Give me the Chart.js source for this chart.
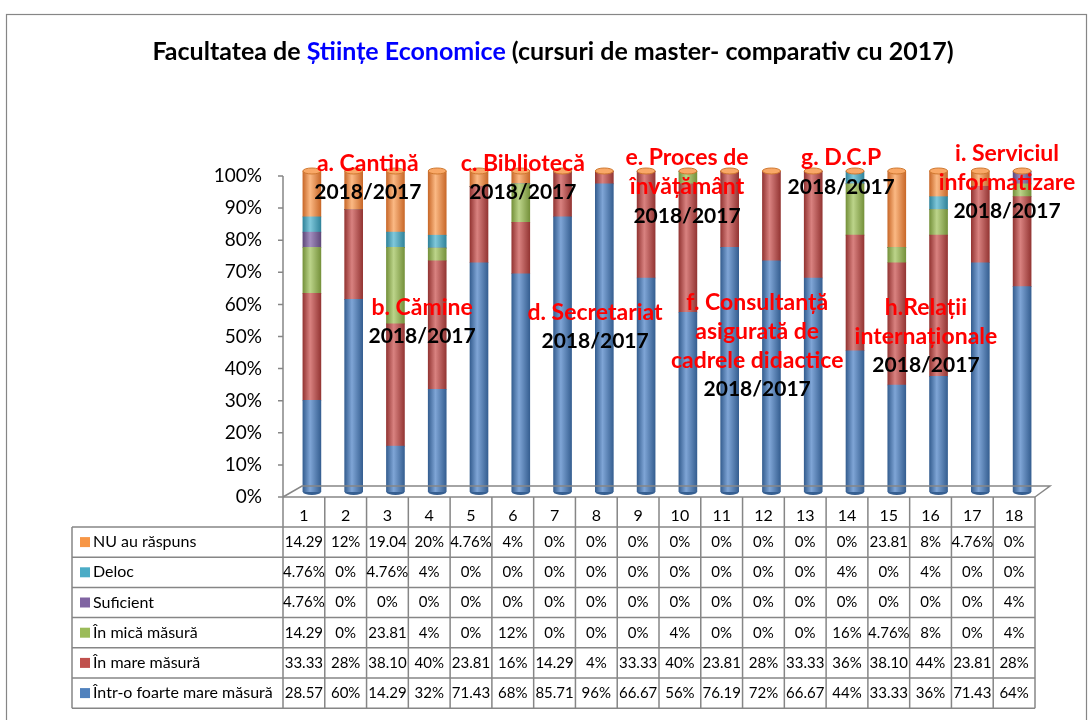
<!DOCTYPE html>
<html>
<head>
<meta charset="utf-8">
<script src="https://cdn.jsdelivr.net/npm/chart.js@4.4.0/dist/chart.umd.min.js"></script>
<style>
  body { margin: 0; background: #fff; }
  #wrap { width: 1091px; height: 720px; }
</style>
</head>
<body>
<div id="wrap"><canvas id="myChart" width="1091" height="720"></canvas></div>
<script>
// categorii (coloanele tabelului)
const categories = ['1', '2', '3', '4', '5', '6', '7', '8', '9', '10', '11', '12', '13', '14', '15', '16', '17', '18'];
const yTicks = [0, 10, 20, 30, 40, 50, 60, 70, 80, 90, 100];

// seriile, de jos in sus
const intrOFoarteMareMasura = [28.57, 60, 14.29, 32, 71.43, 68, 85.71, 96, 66.67, 56, 76.19, 72, 66.67, 44, 33.33, 36, 71.43, 64];
const inMareMasura = [33.33, 28, 38.10, 40, 23.81, 16, 14.29, 4, 33.33, 40, 23.81, 28, 33.33, 36, 38.10, 44, 23.81, 28];
const inMicaMasura = [14.29, 0, 23.81, 4, 0, 12, 0, 0, 0, 4, 0, 0, 0, 16, 4.76, 8, 0, 4];
const suficient = [4.76, 0, 0, 0, 0, 0, 0, 0, 0, 0, 0, 0, 0, 0, 0, 0, 0, 4];
const deloc = [4.76, 0, 4.76, 4, 0, 0, 0, 0, 0, 0, 0, 0, 0, 4, 0, 4, 0, 0];
const nuAuRaspuns = [14.29, 12, 19.04, 20, 4.76, 4, 0, 0, 0, 0, 0, 0, 0, 0, 23.81, 8, 4.76, 0];

const seriesNames = ['Într-o foarte mare măsură', 'În mare măsură', 'În mică măsură', 'Suficient', 'Deloc', 'NU au răspuns'];
const seriesValues = [intrOFoarteMareMasura, inMareMasura, inMicaMasura, suficient, deloc, nuAuRaspuns];

// etichetele rosii de pe grafic
const noteTexts = [
    ['a. Cantină'],
    ['b. Cămine'],
    ['c. Bibliotecă'],
    ['d. Secretariat'],
    ['e. Proces de', 'învățământ'],
    ['f. Consultanță', 'asigurată de', 'cadrele didactice'],
    ['g. D.C.P'],
    ['h.Relații', 'internaționale'],
    ['i. Serviciul', 'informatizare']
];
const noteYear = '2018/2017';
// pozitia: coloana (0 = marginea stanga a tabelului) si valoarea pe axa
const notePos = [
    [2.03, 104.0], [3.33, 59.0], [5.74, 104.0], [7.47, 57.5], [9.67, 105.6],
    [11.35, 60.6], [13.36, 105.6], [15.39, 59.0], [17.33, 107.1]
];

// culori Office: [baza, inchis, deschis]
const colors = [
    ['#4F81BD', '#365F91', '#7FA5D6'],
    ['#C0504D', '#943634', '#D98280'],
    ['#9BBB59', '#76923C', '#BCD48A'],
    ['#8064A2', '#5F497A', '#A48FC0'],
    ['#4BACC6', '#31849B', '#80C8DB'],
    ['#F79646', '#C9692A', '#FBB984']
];

const FONT = 'Lato, "Open Sans", sans-serif';
const SHIFT = 8;  // adancimea 3D
const LIFT = 5;

function barGradient(i) {
    return function (ctx) {
        const chart = ctx.chart;
        if (!chart.chartArea || ctx.type !== 'data') return colors[i][0];
        const x = chart.scales.x.getPixelForValue(ctx.dataIndex);
        const g = chart.ctx.createLinearGradient(x - 9, 0, x + 9, 0);
        g.addColorStop(0, colors[i][1]);
        g.addColorStop(0.4, colors[i][2]);
        g.addColorStop(1, colors[i][1]);
        return g;
    };
}

function fmt(v) {
    return (Number.isInteger(v) ? v : v.toFixed(2)) + '%';
}

const decor = {
    id: 'decor',
    beforeDraw(chart) {
        const c = chart.ctx;
        c.save();
        c.fillStyle = '#fff';
        c.fillRect(0, 0, chart.width, chart.height);
        c.strokeStyle = '#868686';
        c.lineWidth = 1.2;
        c.strokeRect(6.5, 14.5, 1080, 800);

        // titlu
        const parts = [['Facultatea de ', '#000'], ['Științe Economice', '#0000FF'], [' (cursuri de master- comparativ cu 2017)', '#000']];
        c.font = 'bold 25px ' + FONT;
        c.textBaseline = 'middle';
        c.textAlign = 'left';
        let total = 0;
        parts.forEach(p => total += c.measureText(p[0]).width);
        let x = 553 - total / 2;
        parts.forEach(p => {
            c.fillStyle = p[1];
            c.fillText(p[0], x, 52);
            x += c.measureText(p[0]).width;
        });
        c.restore();
    },
    afterDatasetsDraw(chart) {
        const c = chart.ctx;
        const top = chart.scales.y.getPixelForValue(100);
        const meta = chart.getDatasetMeta(chart.data.datasets.length - 1);
        c.save();
        meta.data.forEach(el => {
            c.beginPath();
            c.ellipse(el.x, top, el.width / 2, 3, 0, 0, Math.PI * 2);
            c.fillStyle = '#F9A867';
            c.fill();
            c.strokeStyle = '#D0782F';
            c.lineWidth = 1;
            c.stroke();
        });
        // fundul cilindrului
        const bottom = chart.scales.y.getPixelForValue(0);
        const meta0 = chart.getDatasetMeta(0);
        meta0.data.forEach(el => {
            c.beginPath();
            c.ellipse(el.x, bottom, el.width / 2, 3, 0, 0, Math.PI);
            c.fillStyle = colors[0][1];
            c.fill();
        });
        c.restore();
    },
    afterDraw(chart) {
        const c = chart.ctx;
        const xs = chart.scales.x, ys = chart.scales.y;
        const colW = (xs.right - xs.left) / categories.length;
        const left = xs.left - SHIFT;
        const right = left + colW * categories.length;
        const axisY = v => ys.getPixelForValue(v) + LIFT;
        const y0 = axisY(0);

        c.save();
        c.strokeStyle = '#868686';
        c.lineWidth = 1.5;
        // axa verticala si gradatii
        c.beginPath();
        c.moveTo(left, axisY(100));
        c.lineTo(left, y0);
        yTicks.forEach(t => {
            c.moveTo(left - 5, axisY(t));
            c.lineTo(left, axisY(t));
        });
        // podeaua 3D
        c.moveTo(left, y0);
        c.lineTo(left + 19, y0 - 11);
        c.lineTo(right + 15, y0 - 11);
        c.lineTo(right, y0);
        c.stroke();

        // tabelul de date
        const rowH = 30.2;
        const tHead = y0;
        const tBody = y0 + 30;
        const labelLeft = 72;
        const nRows = seriesNames.length;
        c.beginPath();
        c.moveTo(left, tHead);
        c.lineTo(right, tHead);
        for (let r = 0; r <= nRows; r++) {
            c.moveTo(labelLeft, tBody + r * rowH);
            c.lineTo(right, tBody + r * rowH);
        }
        c.moveTo(labelLeft, tBody);
        c.lineTo(labelLeft, tBody + nRows * rowH);
        for (let i = 0; i <= categories.length; i++) {
            c.moveTo(left + i * colW, tHead);
            c.lineTo(left + i * colW, tBody + nRows * rowH);
        }
        c.stroke();

        c.fillStyle = '#000';
        c.font = '16px ' + FONT;
        c.textBaseline = 'middle';
        c.textAlign = 'center';
        categories.forEach((cat, i) => c.fillText(cat, left + (i + 0.5) * colW, tHead + 19));

        for (let r = 0; r < nRows; r++) {
            const s = nRows - 1 - r; // NU au raspuns sus
            const yMid = tBody + (r + 0.5) * rowH;
            c.fillStyle = colors[s][0];
            c.fillRect(80, yMid - 5, 10, 10);
            c.fillStyle = '#000';
            c.textAlign = 'left';
            c.font = '16px ' + FONT;
            c.fillText(seriesNames[s], 93, yMid);
            c.textAlign = 'center';
            c.font = '15px ' + FONT;
            seriesValues[s].forEach((v, i) => {
                let txt = fmt(v);
                if (c.measureText(txt).width > colW + 3) txt = txt.slice(0, -1);
                c.fillText(txt, left + (i + 0.5) * colW, yMid);
            });
        }

        // etichete
        c.textAlign = 'center';
        noteTexts.forEach((lines, n) => {
            const x = left + notePos[n][0] * colW;
            let y = axisY(notePos[n][1]);
            c.fillStyle = '#FF0000';
            c.font = 'bold 23px ' + FONT;
            lines.forEach(l => { c.fillText(l, x, y); y += 29; });
            c.fillStyle = '#000';
            c.font = 'bold 21px ' + FONT;
            c.fillText(noteYear, x, y);
        });
        c.restore();
    }
};

const datasets = seriesNames.map((name, i) => ({
    label: name,
    data: seriesValues[i],
    backgroundColor: barGradient(i),
    borderWidth: 0,
    barThickness: 18
}));

const chart = new Chart(document.getElementById('myChart'), {
    type: 'bar',
    data: { labels: categories, datasets: datasets },
    options: {
        responsive: false,
        animation: false,
        layout: { padding: { left: 0, right: 48, top: 171, bottom: 228 } },
        plugins: { legend: { display: false }, tooltip: { enabled: false } },
        scales: {
            x: { stacked: true, display: false },
            y: {
                stacked: true,
                min: 0,
                max: 100,
                afterFit: s => { s.width = 291; },
                afterBuildTicks: s => { s.ticks = yTicks.map(v => ({ value: v })); },
                grid: { display: false, drawTicks: false },
                border: { display: false },
                ticks: {
                    padding: 29,
                    labelOffset: LIFT,
                    color: '#000',
                    font: { family: FONT, size: 19 },
                    callback: v => v + '%'
                }
            }
        }
    },
    plugins: [decor]
});
</script>
</body>
</html>
